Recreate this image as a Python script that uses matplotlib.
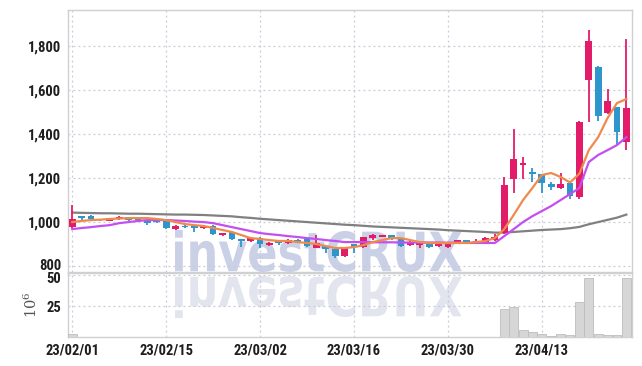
import numpy as np
import matplotlib
matplotlib.use("Agg")
import matplotlib.pyplot as plt
from matplotlib import font_manager as fm
from matplotlib.textpath import TextPath
from matplotlib.patches import PathPatch
from matplotlib.font_manager import FontProperties
from matplotlib.transforms import Affine2D, IdentityTransform, ScaledTranslation

# OHLC (KRW), one value per trading day from 23/02/01
opens = [977, 1027, 1027, 1014, 1005, 1014, 1023, 1018, 1009, 1009,
         1005, 968, 982, 982, 973, 982, 941, 955, 923, 914,
         927, 895, 914, 905, 918, 923, 882, 891, 877, 845,
         900, 886, 927, 932, 941, 923, 895, 895, 905, 891,
         886, 905, 918, 909, 909, 918, 950, 1195, 1259, 1227,
         1218, 1173, 1155, 1177, 1114, 1645, 1705, 1495, 1523, 1364]
highs = [1077, 1027, 1030, 1016, 1020, 1027, 1025, 1020, 1011, 1012,
         1009, 985, 985, 985, 986, 986, 952, 957, 925, 930,
         930, 909, 916, 925, 922, 925, 941, 893, 880, 886,
         902, 934, 945, 943, 943, 925, 918, 907, 907, 903,
         909, 920, 920, 923, 930, 945, 1205, 1423, 1295, 1245,
         1220, 1182, 1223, 1180, 1460, 1873, 1710, 1605, 1525, 1832]
lows = [973, 1005, 1010, 1005, 1003, 1009, 1000, 1000, 986, 997,
        968, 965, 973, 955, 970, 941, 938, 920, 886, 910,
        882, 891, 895, 900, 905, 888, 880, 859, 836, 841,
        859, 882, 918, 930, 918, 888, 891, 882, 884, 888,
        884, 902, 900, 900, 905, 914, 945, 1132, 1195, 1182,
        1132, 1145, 1150, 1105, 1105, 1455, 1459, 1490, 1350, 1327]
closes = [1014, 1018, 1014, 1009, 1018, 1023, 1009, 1010, 995, 1000,
          973, 982, 977, 973, 982, 945, 950, 923, 914, 927,
          900, 905, 905, 918, 909, 891, 905, 877, 845, 882,
          886, 932, 941, 941, 923, 891, 905, 905, 886, 900,
          905, 918, 909, 914, 927, 932, 1168, 1286, 1268, 1218,
          1177, 1159, 1173, 1118, 1455, 1823, 1482, 1550, 1409, 1518]

# moving averages
ma_short = [1000, 1005, 1009, 1011, 1014, 1016, 1018, 1018, 1018, 1014,
            1009, 1000, 991, 986, 982, 973, 964, 955, 941, 927,
            923, 918, 914, 914, 909, 905, 900, 891, 882, 882,
            886, 895, 909, 918, 927, 927, 918, 909, 905, 905,
            905, 905, 905, 909, 914, 927, 968, 1032, 1100, 1155,
            1214, 1223, 1205, 1180, 1220, 1327, 1386, 1473, 1541, 1559]
ma_mid = [968, 973, 977, 982, 986, 995, 1000, 1005, 1009, 1009,
          1009, 1007, 1005, 1002, 1000, 995, 986, 977, 968, 959,
          950, 945, 941, 936, 932, 927, 923, 918, 914, 909,
          909, 909, 908, 908, 908, 907, 907, 907, 907, 907,
          906, 906, 905, 905, 905, 905, 936, 968, 1000, 1027,
          1050, 1073, 1100, 1127, 1155, 1273, 1305, 1327, 1350, 1386]
ma_long = [1043, 1042, 1041, 1040, 1040, 1039, 1038, 1038, 1037, 1036,
           1035, 1034, 1034, 1033, 1032, 1030, 1028, 1026, 1022, 1019,
           1015, 1012, 1009, 1006, 1003, 1000, 997, 994, 991, 988,
           986, 983, 980, 978, 976, 974, 972, 970, 968, 966,
           963, 961, 959, 957, 955, 952, 952, 955, 958, 961,
           964, 966, 968, 972, 978, 990, 1000, 1010, 1020, 1034]

# volume, millions of shares
volume = [2.7, 0.3, 0.3, 0.2, 0.2, 0.3, 0.2, 0.2, 0.3, 0.2,
          0.3, 0.2, 0.2, 0.2, 0.2, 0.3, 0.2, 0.3, 0.2, 0.2,
          0.3, 0.2, 0.2, 0.2, 0.2, 0.3, 0.3, 0.2, 0.3, 0.3,
          0.2, 0.3, 0.3, 0.2, 0.2, 0.2, 0.2, 0.2, 0.2, 0.2,
          0.2, 0.2, 0.2, 0.2, 0.3, 0.3, 22.6, 24.2, 5.7, 4.1,
          2.4, 0.8, 2.4, 1.6, 28.2, 47.8, 2.4, 1.3, 1.3, 47.8]

tick_idx = [0, 10, 20, 30, 40, 50]
tick_labels = ["23/02/01", "23/02/15", "23/03/02", "23/03/16", "23/03/30", "23/04/13"]
price_ticks = [800, 1000, 1200, 1400, 1600, 1800]
vol_ticks = [25, 50]

UP = "#e31c6a"
DOWN = "#2f95cd"


def narrow_font():
    # look for a narrow sans face, otherwise fall back to Liberation Sans
    for name in ["Liberation Sans Narrow", "DejaVu Sans Condensed", "Noto Sans Condensed",
                 "Roboto Condensed", "Open Sans Condensed"]:
        try:
            fm.findfont(FontProperties(family=name, weight="bold"), fallback_to_default=False)
            return dict(family=name, size=10.5)
        except ValueError:
            pass
    for name in ["DejaVu Sans", "Noto Sans"]:
        path = fm.findfont(FontProperties(family=name, weight="bold", stretch="condensed"))
        if "ondensed" in path:
            return dict(family=name, stretch="condensed", size=10.5)
    return dict(family="Liberation Sans", size=10)


tick_font = dict(weight="bold", color="#1e1e1e", **narrow_font())
plt.rcParams["mathtext.fontset"] = "dejavuserif"

W, H = 642, 366
fig = plt.figure(figsize=(W / 100, H / 100), dpi=100)
ax = fig.add_axes([68 / W, (H - 272) / H, 564 / W, 262 / H], facecolor="none")
axv = fig.add_axes([68 / W, (H - 337) / H, 564 / W, 64 / H], facecolor="none", sharex=ax)

# watermark with reflection, drawn behind the axes
tp = TextPath((0, 0), "investCRUX", size=100, prop=FontProperties(family="DejaVu Sans", weight="bold"))
ext = tp.get_extents()
sx = (462 - 175) / ext.width
sy = (272 - 230) / ext.height
base = Affine2D().translate(-ext.x0, -ext.y0)
t_main = base + Affine2D().scale(sx, sy).translate(175, H - 272)
t_refl = base + Affine2D().scale(sx, -sy).translate(175, H - 276)
for tr, col in [(t_main, "#cad1e6"), (t_refl, "#e3e5ee")]:
    p = PathPatch(tr.transform_path(tp), facecolor=col, edgecolor="none",
                  transform=IdentityTransform(), zorder=-1)
    fig.patches.append(p)

x = np.arange(len(closes))
for i in x:
    col = UP if closes[i] >= opens[i] else DOWN
    ax.vlines(i, lows[i], highs[i], color=col, linewidth=1.3, zorder=3)
    lo = min(opens[i], closes[i])
    hgt = max(abs(closes[i] - opens[i]), 3)
    ax.bar(i, hgt, bottom=lo, width=0.72, color=col, zorder=4)

ax.plot(x, ma_long, color="#808080", linewidth=1.6, zorder=2)
ax.plot(x, ma_mid, color="#c44ff0", linewidth=1.6, zorder=5)
ax.plot(x, ma_short, color="#f08a4b", linewidth=1.6, zorder=6)

axv.bar(x, volume, width=0.95, color="#d6d6d6", edgecolor="#bdbdbd", linewidth=0.6, zorder=3)

ax.set_xlim(-0.45, 59.6)
ax.set_ylim(773, 1964)
axv.set_ylim(0, 52)

ax.set_yticks(price_ticks)
ax.set_yticklabels([f"{v:,}" for v in price_ticks], **tick_font)
axv.set_yticks(vol_ticks)
axv.set_yticklabels([str(v) for v in vol_ticks], **tick_font)
axv.set_xticks(tick_idx)
axv.set_xticklabels(tick_labels, **tick_font)
ax.tick_params(axis="x", labelbottom=False)

for a in (ax, axv):
    a.tick_params(length=0, pad=5)
    a.grid(True, color="#c9c9dc", linestyle=(0, (1.5, 2.5)), linewidth=0.9)
    a.set_axisbelow(True)
    for s in a.spines.values():
        s.set_color("#d0d0d0")
        s.set_linewidth(1.0)

# "800" and "50" sit right on top of each other, nudge them apart a little
lbl800 = ax.get_yticklabels()[0]
lbl800.set_transform(lbl800.get_transform() + ScaledTranslation(0, 1.5 / 100, fig.dpi_scale_trans))
lbl50 = axv.get_yticklabels()[-1]
lbl50.set_transform(lbl50.get_transform() + ScaledTranslation(0, -2.5 / 100, fig.dpi_scale_trans))

axv.set_ylabel(r"$10^6$", color="#555555", fontsize=10.5)
axv.yaxis.set_label_coords(-0.05, 0.5)

fig.savefig("out.png", dpi=100)
